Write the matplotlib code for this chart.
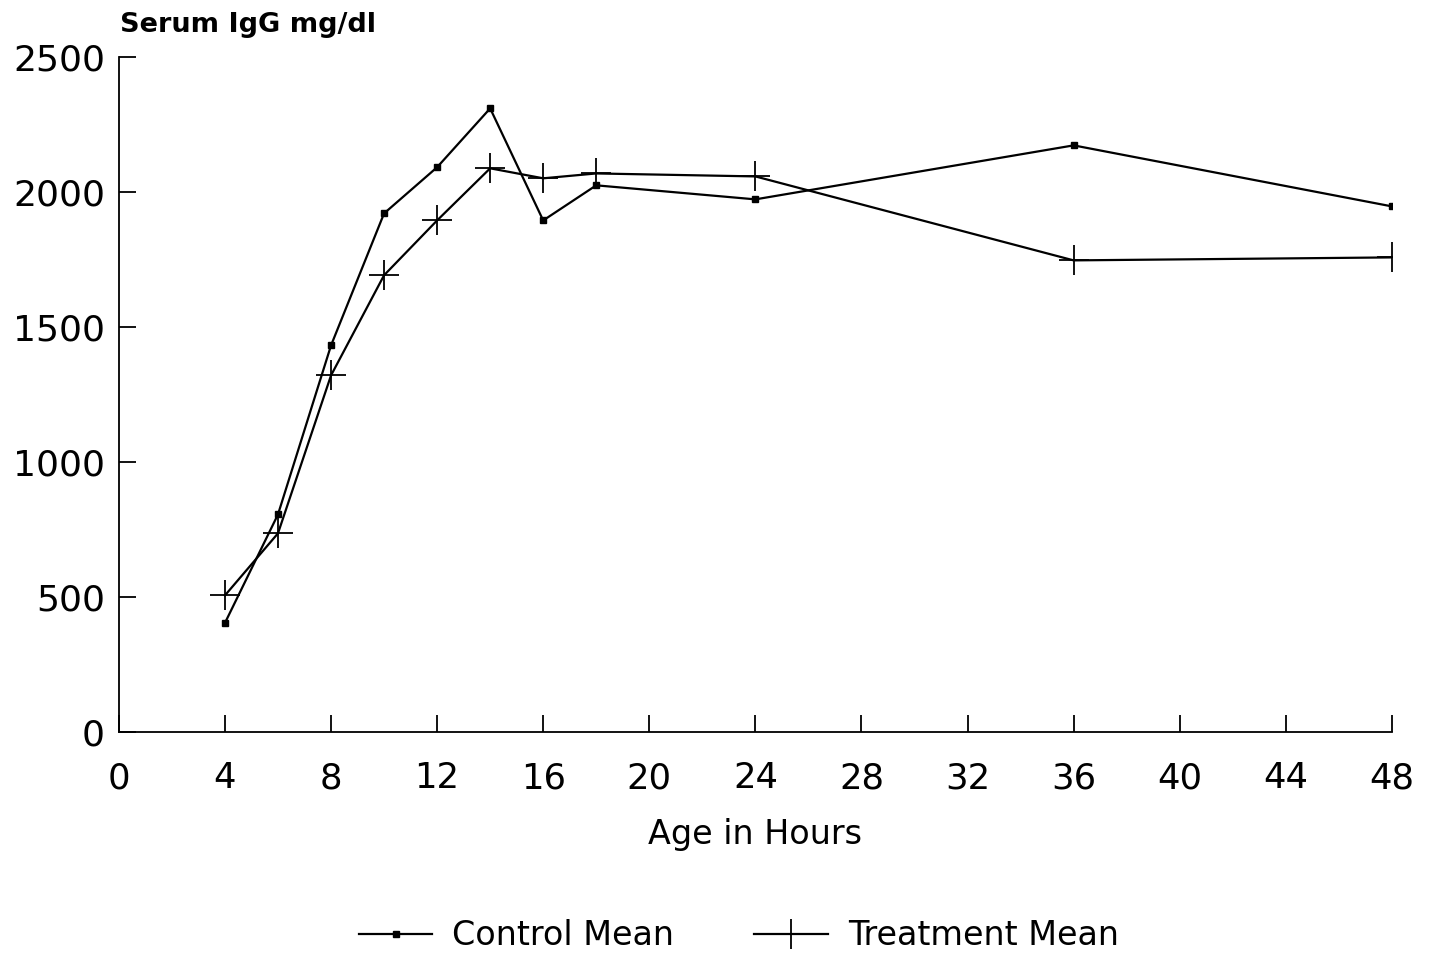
import matplotlib.pyplot as plt

plt.rcParams["font.family"] = ["DejaVu Sans"]

hours = [4, 6, 8, 10, 12, 14, 16, 18, 24, 36, 48]
control_mean = [405, 807, 1433, 1922, 2093, 2311, 1896, 2026, 1974, 2174, 1948]
treatment_mean = [507, 737, 1322, 1693, 1896, 2089, 2052, 2070, 2059, 1748, 1759]

x_ticks = list(range(0, 49, 4))
y_ticks = [0, 500, 1000, 1500, 2000, 2500]

fig = plt.figure(figsize=(14.32, 9.56), dpi=100)
ax = fig.add_axes([0.083, 0.234, 0.889, 0.706])

ax.plot(hours, control_mean, color="black", lw=1.6, marker="s", ms=4,
        label="Control Mean")
ax.plot(hours, treatment_mean, color="black", lw=1.6, marker="+", ms=22,
        mew=1.3, label="Treatment Mean")

ax.set_xlim(0, 48)
ax.set_ylim(0, 2500)
ax.set_xticks(x_ticks)
ax.set_yticks(y_ticks)
ax.spines["top"].set_visible(False)
ax.spines["right"].set_visible(False)
for s in ("left", "bottom"):
    ax.spines[s].set_linewidth(1.3)
ax.tick_params(axis="x", direction="in", length=12, width=1.3, pad=21,
               labelsize=25.5)
ax.tick_params(axis="y", direction="in", length=12, width=1.3, pad=10,
               labelsize=26)

ax.set_xlabel("Age in Hours", fontsize=24, labelpad=16)
fig.text(0.084, 0.974, "Serum IgG mg/dl", fontsize=19.5, fontweight="bold",
         ha="left", va="center")

fig.legend(loc="center", bbox_to_anchor=(0.516, 0.021), ncol=2,
           frameon=False, fontsize=24, handlelength=2.2, columnspacing=2.4,
           handletextpad=0.6)

fig.savefig("out.png", dpi=100)
